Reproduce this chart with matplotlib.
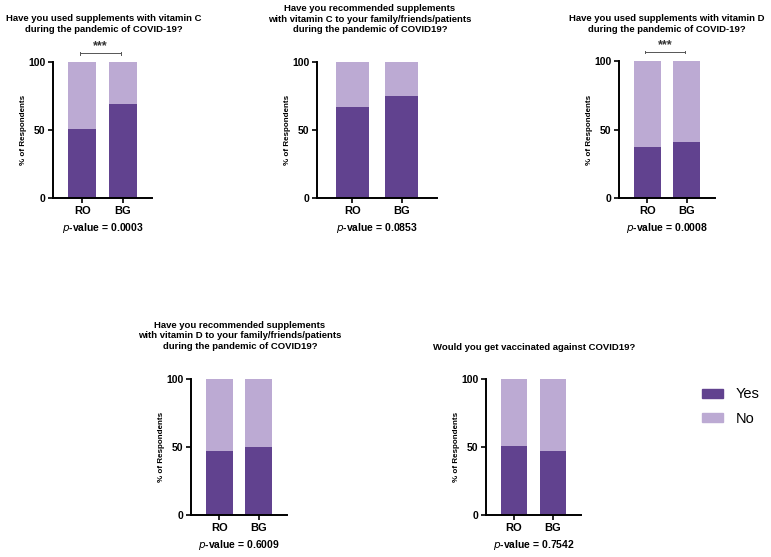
import numpy as np
import matplotlib
matplotlib.use("Agg")
import matplotlib.pyplot as plt
from matplotlib.patches import Patch

plt.rcParams['font.family'] = ['Liberation Sans', 'DejaVu Sans']

# data
groups = ["RO", "BG"]
questions = [
    "Have you used supplements with vitamin C\nduring the pandemic of COVID-19?",
    "Have you recommended supplements\nwith vitamin C to your family/friends/patients\nduring the pandemic of COVID19?",
    "Have you used supplements with vitamin D\nduring the pandemic of COVID-19?",
    "Have you recommended supplements\nwith vitamin D to your family/friends/patients\nduring the pandemic of COVID19?",
    "Would you get vaccinated against COVID19?",
]
yes_ro = [51, 67, 37, 47, 51]
yes_bg = [69, 75, 41, 50, 47]
p_values = ["0.0003", "0.0853", "0.0008", "0.6009", "0.7542"]
stars = ["***", "", "***", "", ""]

dark = "#61428f"
light = "#bcaad3"

W, H = 771, 557
fig = plt.figure(figsize=(W / 100, H / 100), dpi=100)

# panel boxes in pixels: left, top(100), bottom(0), right ; title center x, title center y
boxes = [
    (53, 62, 198, 152, 104, 24),
    (317, 62, 198, 437, 370, 19),
    (619, 61, 198, 715, 667, 24),
    (191, 379, 515, 287, 240, 336),
    (486, 379, 515, 581, 534, 347),
]

for i, (l, t, b, r, tx, ty) in enumerate(boxes):
    ax = fig.add_axes([l / W, 1 - b / H, (r - l) / W, (b - t) / H])
    yes = [yes_ro[i], yes_bg[i]]
    no = [100 - v for v in yes]
    x = np.arange(len(groups))
    ax.bar(x, yes, width=0.68, color=dark)
    ax.bar(x, no, bottom=yes, width=0.68, color=light)
    ax.set_xlim(-0.72, 1.72)
    ax.set_ylim(0, 100)
    ax.set_yticks([0, 50, 100])
    ax.set_yticklabels(["0", "50", "100"], fontsize=7.5, fontweight='bold')
    ax.set_xticks(x)
    ax.set_xticklabels(groups, fontsize=8, fontweight='bold')
    ax.tick_params(axis='both', width=1.2, length=3.5, pad=2)
    for s in ['top', 'right']:
        ax.spines[s].set_visible(False)
    for s in ['left', 'bottom']:
        ax.spines[s].set_linewidth(1.4)
    ax.set_ylabel("% of Respondents", fontsize=5.8, fontweight='bold')
    ax.yaxis.set_label_coords(-26 / (r - l), 0.5)
    ax.text(0.5, -0.22, r"$\it{p}$" + "-value = " + p_values[i], transform=ax.transAxes,
            ha='center', va='center', fontsize=7.5, fontweight='bold')
    fig.text(tx / W, 1 - ty / H, questions[i], ha='center', va='center',
             fontsize=6.8, fontweight='bold', linespacing=1.25)
    if stars[i]:
        yb = 106.5
        ax.plot([-0.05, 0.95], [yb, yb], color='#555555', lw=0.7, clip_on=False)
        for xe in [-0.05, 0.95]:
            ax.plot([xe, xe], [yb - 1, yb + 1], color='#555555', lw=0.7, clip_on=False)
        ax.text(0.45, yb + 1.0, stars[i], ha='center', va='bottom', fontsize=9,
                fontweight='bold', color='#333333')

fig.legend(handles=[Patch(color=dark, label="Yes"), Patch(color=light, label="No")],
           loc='center left', bbox_to_anchor=(702 / W, 1 - 406.5 / H), frameon=False,
           borderpad=0, borderaxespad=0, fontsize=10.5, handlelength=1.45,
           handleheight=0.6, labelspacing=0.7, handletextpad=0.85)

fig.savefig("out.png", dpi=100)
